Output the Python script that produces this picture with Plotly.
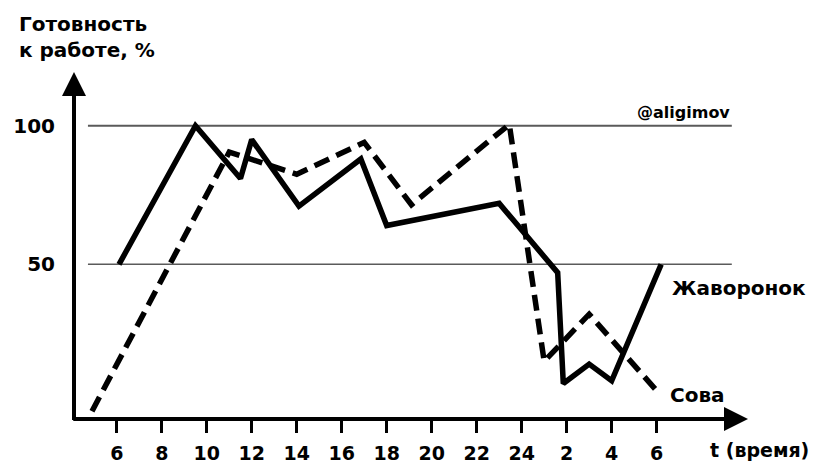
import plotly.graph_objects as go

# Data (hours: 6..24 then next day 2,4,6 mapped to 26,28,30)
lark_t = [6.1, 9.5, 11.5, 12.0, 14.1, 16.85, 18.0, 23.0, 25.6, 25.85, 27.0, 28.0, 30.2]
lark_v = [50, 100, 81, 95, 71, 88, 64, 72, 47, 7, 14, 8, 50]
owl_t = [4.9, 11.0, 14.0, 17.0, 19.1, 23.45, 25.0, 27.0, 30.15]
owl_v = [-3, 90.5, 82.5, 94, 71.5, 100.5, 15, 32, 3]

tick_vals = [6, 8, 10, 12, 14, 16, 18, 20, 22, 24, 26, 28, 30]
tick_text = ["6", "8", "10", "12", "14", "16", "18", "20", "22", "24", "2", "4", "6"]
ref_levels = [100, 50]
y_labels = ["100", "50"]

X0, X1 = 4.10, 34.06
Y0, Y1 = -5.81, 119.4
FONT = "DejaVu Sans"

fig = go.Figure()
fig.add_trace(go.Scatter(x=lark_t, y=lark_v, mode="lines",
                         line=dict(color="black", width=5.5), hoverinfo="skip"))
fig.add_trace(go.Scatter(x=owl_t, y=owl_v, mode="lines",
                         line=dict(color="black", width=5.5, dash="16px,8px"), hoverinfo="skip"))

for lv, w in zip(ref_levels, [2, 1.5]):
    fig.add_shape(type="line", x0=4.72, x1=33.34, y0=lv, y1=lv, xref="x", yref="y",
                  line=dict(color="#5a5a5a", width=w), layer="below")

# axis arrows
fig.add_annotation(x=X1, y=Y0, ax=X0 - 0.1, ay=Y0, xref="x", yref="y", axref="x", ayref="y",
                   showarrow=True, arrowhead=2, arrowsize=1.2, arrowwidth=4, arrowcolor="black", text="")
fig.add_annotation(x=X0, y=Y1, ax=X0, ay=Y0 - 0.9, xref="x", yref="y", axref="x", ayref="y",
                   showarrow=True, arrowhead=2, arrowsize=1.2, arrowwidth=4, arrowcolor="black", text="")

bold = dict(family=FONT, color="black", weight=700)
fig.add_annotation(x=-0.0846, y=1.178, xref="paper", yref="paper", xanchor="left", yanchor="top",
                   text="Готовность<br>к работе, %", showarrow=False, align="left",
                   font=dict(size=20, **bold))
fig.add_annotation(x=32.28, y=-0.089, xref="x", yref="paper", xanchor="left", yanchor="middle",
                   text="t (время)", showarrow=False, font=dict(size=19, **bold))
fig.add_annotation(x=33.34, y=104.9, xref="x", yref="y", xanchor="right", yanchor="middle",
                   text="@aligimov", showarrow=False, font=dict(size=16, **bold))
fig.add_annotation(x=30.59, y=41.4, xref="x", yref="y", xanchor="left", yanchor="middle",
                   text="Жаворонок", showarrow=False, font=dict(size=20, **bold))
fig.add_annotation(x=30.5, y=2.85, xref="x", yref="y", xanchor="left", yanchor="middle",
                   text="Сова", showarrow=False, font=dict(size=20, **bold))

fig.update_layout(
    width=827, height=467,
    margin=dict(l=66, r=87, t=64, b=56),
    paper_bgcolor="white", plot_bgcolor="white",
    showlegend=False,
    xaxis=dict(range=[X0, X1], tickvals=tick_vals, ticktext=tick_text, automargin=False,
               ticks="outside", ticklen=13, tickwidth=3, tickcolor="black",
               showgrid=False, zeroline=False, showline=False,
               tickfont=dict(size=19, **bold), ticklabelstandoff=4, fixedrange=True),
    yaxis=dict(range=[Y0, Y1], tickvals=ref_levels, ticktext=y_labels, ticks="", automargin=False,
               showgrid=False, zeroline=False, showline=False,
               tickfont=dict(size=20, **bold), ticklabelstandoff=18, fixedrange=True),
)
fig.write_html("out.html", config={"displayModeBar": False})
